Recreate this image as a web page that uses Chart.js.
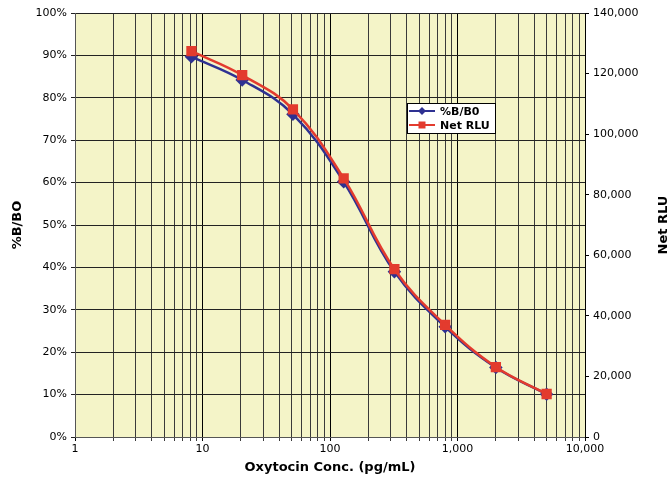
<!DOCTYPE html>
<html>
<head>
<meta charset="utf-8">
<script src="https://cdn.jsdelivr.net/npm/chart.js@4.4.1/dist/chart.umd.min.js"></script>
<style>
  html, body { margin: 0; padding: 0; background: #fff; }
</style>
</head>
<body>
<canvas id="chart" width="667" height="478"></canvas>
<script>
// standards (pg/mL), 2.5-fold dilution series
const concentrations = [8.19, 20.48, 51.2, 128, 320, 800, 2000, 5000];
const percentBB0 = [89.7, 84.2, 76.1, 60.2, 39.0, 26.0, 16.4, 10.1];
const netRLU = [127400, 119500, 108200, 85400, 55400, 37000, 23100, 14200];

const xDecades = [1, 10, 100, 1000, 10000];
const xTickLabels = ['1', '10', '100', '1,000', '10,000'];

const BLUE = '#2E3192';
const RED = '#E33B2E';
const PLOT_BG = '#F4F4C8';
const FONT = "'DejaVu Sans', sans-serif";

const toPoints = (ys) => concentrations.map((x, i) => ({ x, y: ys[i] }));

// yellow plot area + legend box + right axis title
const decorPlugin = {
  id: 'decor',
  beforeDraw(chart) {
    const { ctx, chartArea } = chart;
    ctx.save();
    ctx.fillStyle = PLOT_BG;
    ctx.fillRect(chartArea.left, chartArea.top, chartArea.right - chartArea.left, chartArea.bottom - chartArea.top);
    ctx.restore();
  },
  afterDraw(chart) {
    const { ctx, chartArea } = chart;
    ctx.save();

    // legend
    const lx = chartArea.left + 332;
    const ly = chartArea.top + 90;
    const lw = 88;
    const lh = 30;
    ctx.fillStyle = '#fff';
    ctx.fillRect(lx, ly, lw, lh);
    ctx.strokeStyle = '#000';
    ctx.lineWidth = 1;
    ctx.strokeRect(lx + 0.5, ly + 0.5, lw, lh);

    const rows = [
      { label: '%B/B0', color: BLUE, style: 'diamond', y: ly + 8 },
      { label: 'Net RLU', color: RED, style: 'square', y: ly + 22 },
    ];
    rows.forEach((r) => {
      ctx.strokeStyle = r.color;
      ctx.lineWidth = 2;
      ctx.beginPath();
      ctx.moveTo(lx + 2, r.y);
      ctx.lineTo(lx + 28, r.y);
      ctx.stroke();
      ctx.fillStyle = r.color;
      const cx = lx + 15;
      ctx.beginPath();
      if (r.style === 'diamond') {
        ctx.moveTo(cx, r.y - 4);
        ctx.lineTo(cx + 4, r.y);
        ctx.lineTo(cx, r.y + 4);
        ctx.lineTo(cx - 4, r.y);
        ctx.closePath();
      } else {
        ctx.rect(cx - 3.5, r.y - 3.5, 7, 7);
      }
      ctx.fill();
      ctx.fillStyle = '#000';
      ctx.font = 'bold 11px ' + FONT;
      ctx.textBaseline = 'middle';
      ctx.textAlign = 'left';
      ctx.fillText(r.label, lx + 33, r.y + 1);
    });

    // right axis title reads bottom-to-top like the left one, clipped by the page edge
    ctx.translate(chart.width - 3, (chartArea.top + chartArea.bottom) / 2);
    ctx.rotate(-Math.PI / 2);
    ctx.font = 'bold 13px ' + FONT;
    ctx.fillStyle = '#000';
    ctx.textAlign = 'center';
    ctx.textBaseline = 'middle';
    ctx.fillText('Net RLU', 0, 0);
    ctx.restore();
  },
};

const tickFont = { family: FONT, size: 11 };
const titleFont = { family: FONT, size: 13, weight: 'bold' };

new Chart(document.getElementById('chart'), {
  type: 'line',
  data: {
    datasets: [
      {
        label: '%B/B0',
        data: toPoints(percentBB0),
        yAxisID: 'y',
        borderColor: BLUE,
        backgroundColor: BLUE,
        borderWidth: 2.5,
        pointStyle: 'rectRot',
        pointRadius: 5,
        tension: 0.4,
        order: 2,
      },
      {
        label: 'Net RLU',
        data: toPoints(netRLU),
        yAxisID: 'y1',
        borderColor: RED,
        backgroundColor: RED,
        borderWidth: 2.5,
        pointStyle: 'rect',
        pointRadius: 5.5,
        tension: 0.4,
        order: 1,
      },
    ],
  },
  options: {
    responsive: false,
    animation: false,
    devicePixelRatio: 1,
    layout: { padding: { top: 13, left: 0, right: 0, bottom: 0 } },
    plugins: {
      legend: { display: false },
      tooltip: { enabled: false },
    },
    scales: {
      x: {
        type: 'logarithmic',
        min: 1,
        max: 10000,
        afterBuildTicks: (scale) => {
          const ticks = [];
          xDecades.forEach((d, i) => {
            const steps = i === xDecades.length - 1 ? 1 : 9;
            for (let k = 1; k <= steps; k++) {
              ticks.push({ value: d * k });
            }
          });
          scale.ticks = ticks;
        },
        afterFit: (scale) => { scale.height = 41; },
        ticks: {
          autoSkip: false,
          maxRotation: 0,
          padding: 2,
          color: '#000',
          font: tickFont,
          callback: (value) => {
            const idx = xDecades.indexOf(value);
            return idx >= 0 ? xTickLabels[idx] : '';
          },
        },
        grid: {
          color: (c) => (xDecades.includes(c.tick && c.tick.value) ? '#000' : '#3a3a3a'),
          lineWidth: 1,
          tickLength: 4,
        },
        border: { color: '#555', width: 1 },
        title: {
          display: true,
          text: 'Oxytocin Conc. (pg/mL)',
          color: '#000',
          font: titleFont,
          padding: { top: 0, bottom: 3 },
        },
      },
      y: {
        position: 'left',
        min: 0,
        max: 100,
        afterFit: (scale) => { scale.width = 75; },
        ticks: {
          stepSize: 10,
          padding: 4,
          color: '#000',
          font: tickFont,
          callback: (v) => v + '%',
        },
        grid: { color: '#222', lineWidth: 1, tickLength: 4 },
        border: { color: '#555', width: 1 },
        title: {
          display: true,
          text: '%B/BO',
          color: '#000',
          font: titleFont,
          padding: { top: 10, bottom: 0 },
        },
      },
      y1: {
        position: 'right',
        min: 0,
        max: 140000,
        afterFit: (scale) => { scale.width = 82; },
        ticks: {
          stepSize: 20000,
          padding: 4,
          color: '#000',
          font: tickFont,
          callback: (v) => v.toLocaleString('en-US'),
        },
        grid: { drawOnChartArea: false, color: '#000', tickLength: 4 },
        border: { color: '#000', width: 1 },
      },
    },
  },
  plugins: [decorPlugin],
});
</script>
</body>
</html>
